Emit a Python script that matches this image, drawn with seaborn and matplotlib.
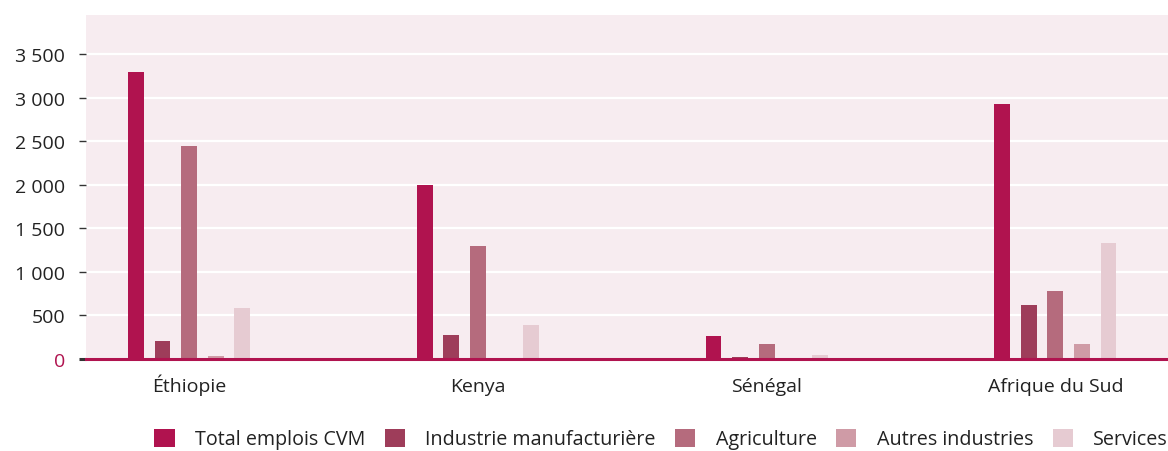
import matplotlib
matplotlib.use("Agg")
import matplotlib.pyplot as plt
from matplotlib.patches import Patch
from matplotlib.ticker import FuncFormatter
import seaborn as sns
import pandas as pd

# Emplois liés aux chaînes de valeur mondiales (milliers)
pays = ["Éthiopie", "Kenya", "Sénégal", "Afrique du Sud"]
secteurs = ["Total emplois CVM", "Industrie manufacturière", "Agriculture",
            "Autres industries", "Services"]
total_cvm = [3290, 2000, 265, 2925]
industrie = [205, 275, 20, 620]
agriculture = [2450, 1300, 170, 780]
autres = [35, 0, 0, 170]
services = [585, 390, 45, 1330]
y_ticks = [0, 500, 1000, 1500, 2000, 2500, 3000, 3500]

couleurs = ["#B0134F", "#9E3D5A", "#B56B7D", "#CF9BA6", "#E6CBD2"]
fond = "#F7ECF0"
accent = "#B0134F"
texte = "#222222"

series = [total_cvm, industrie, agriculture, autres, services]
df = pd.DataFrame(
    [(p, s, v) for s, vals in zip(secteurs, series) for p, v in zip(pays, vals)],
    columns=["pays", "secteur", "valeur"],
)

sns.set_theme(style="white")
plt.rcParams["font.family"] = ["Open Sans", "DejaVu Sans"]

fig = plt.figure(figsize=(11.68, 4.52), dpi=100)
ax = fig.add_axes([86 / 1168, 1 - 360 / 452, 1 - 86 / 1168, (360 - 16) / 452])
ax.set_facecolor(fond)

sns.barplot(data=df, x="pays", y="valeur", hue="secteur", hue_order=secteurs,
            order=pays, palette=couleurs, width=0.46, gap=0.4, saturation=1,
            linewidth=0, ax=ax, legend=False, errorbar=None)

ax.set_ylim(0, 3950)
ax.set_xlim(-0.357, 3.39)
ax.set_yticks(y_ticks)
ax.yaxis.set_major_formatter(FuncFormatter(lambda v, _: f"{int(v):,}".replace(",", " ")))
ax.grid(axis="y", color="white", linewidth=1.6)
ax.set_axisbelow(True)
ax.set_xlabel("")
ax.set_ylabel("")

for s in ["top", "right", "left"]:
    ax.spines[s].set_visible(False)
ax.spines["bottom"].set_color(accent)
ax.spines["bottom"].set_linewidth(2.2)

ax.tick_params(axis="y", length=5, width=1, color="#333333", pad=10,
               labelsize=14, labelcolor=texte, left=True)
ax.tick_params(axis="x", length=0, pad=23, labelsize=14, labelcolor=texte)
for lab in ax.get_xticklabels():
    lab.set_verticalalignment("baseline")

# le zéro est souligné dans la couleur d'accent
yt = ax.yaxis.get_major_ticks()
yt[0].tick1line.set_color(accent)
yt[0].tick1line.set_markeredgewidth(2.2)
yt[0].label1.set_color(accent)

handles = [Patch(facecolor=c, edgecolor="none") for c in couleurs]
fig.legend(handles, secteurs, loc="center right", bbox_to_anchor=(1.0, 1 - 440 / 452),
           ncol=5, frameon=False, fontsize=14.2, handlelength=1.03, handleheight=1.03,
           handletextpad=1.03, columnspacing=0.98, borderpad=0, borderaxespad=0,
           labelcolor=texte)

fig.savefig("out.png", dpi=100, facecolor="white")
